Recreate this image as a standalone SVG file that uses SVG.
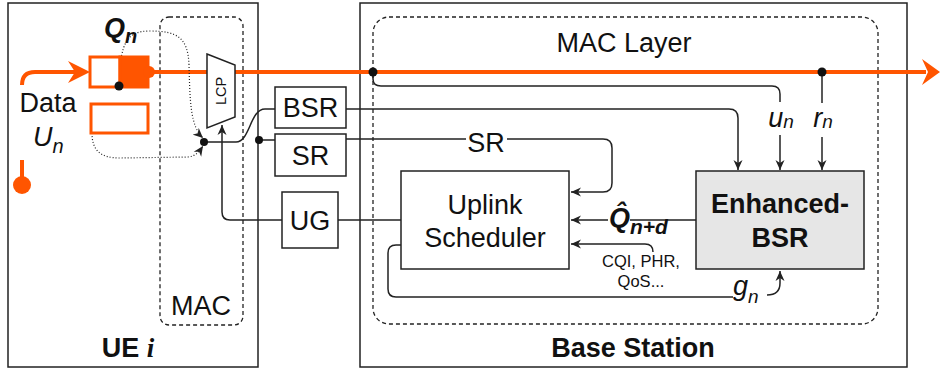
<svg xmlns="http://www.w3.org/2000/svg" width="940" height="369" viewBox="0 0 940 369">
<style>
.box{fill:#fff;stroke:#222;stroke-width:1.5}
.cont{fill:none;stroke:#222;stroke-width:1.5}
.dash{fill:none;stroke:#222;stroke-width:1.3;stroke-dasharray:4 3}
.ln{fill:none;stroke:#222;stroke-width:1.5}
.dot{fill:none;stroke:#222;stroke-width:1.2;stroke-dasharray:1 2}
.or{fill:none;stroke:#ff5500;stroke-width:4}
.t{font-family:"Liberation Sans",Arial,sans-serif;font-size:27px;fill:#111}
.s{font-family:"Liberation Sans",Arial,sans-serif;font-size:16.5px;fill:#111}
.lcp{font-family:"Liberation Sans",Arial,sans-serif;font-size:14.5px;fill:#111}
.tb{font-family:"Liberation Sans",Arial,sans-serif;font-size:27px;font-weight:bold;fill:#111}
.it{font-family:"Liberation Sans",Arial,sans-serif;font-style:italic;fill:#111}
.bi{font-family:"Liberation Sans",Arial,sans-serif;font-style:italic;font-weight:bold;fill:#111}
</style>
<defs>
<marker id="a" markerUnits="userSpaceOnUse" markerWidth="11" markerHeight="10" refX="10" refY="5" orient="auto">
<path d="M0,0.5 L10,5 L0,9.5 L3,5 z" fill="#222"/>
</marker>
</defs>

<!-- containers -->
<g id="ue">
<rect x="8" y="3" width="250" height="364" class="cont"/>
<text x="128" y="357" class="tb" text-anchor="middle">UE <tspan font-family="'Liberation Serif',serif" font-style="italic">i</tspan></text>
</g>
<g id="ue-mac">
<rect x="160" y="17" width="83" height="308" rx="9" class="dash"/>
<text x="201" y="315" class="t" text-anchor="middle">MAC</text>
</g>
<g id="bs">
<rect x="360" y="3" width="547" height="364" class="cont"/>
<text x="633" y="357" class="tb" text-anchor="middle">Base Station</text>
</g>
<g id="mac-layer">
<rect x="373" y="17" width="505" height="307" rx="16" class="dash"/>
<text x="624" y="52" class="t" text-anchor="middle">MAC Layer</text>
</g>

<!-- connectors -->
<g id="connectors">
<!-- orange data path -->
<path d="M22,85 Q22,72 35,72 H76" class="or"/>
<polygon points="90,72 68,61 75,72 68,83" fill="#ff5500"/>
<path d="M153,72 H926" class="or"/>
<polygon points="940,72 922,59 928,72 922,85" fill="#ff5500"/>
<path d="M22,160 V185" class="or"/>
<circle cx="22" cy="185" r="9" fill="#ff5500"/>

<!-- dotted queue feedback -->
<path d="M119,86 C120,40 128,31 150,31 C178,31 188,38 189,65 C190,100 190,126 203,138" class="dot" marker-end="url(#a)"/>
<path d="M92,133 C92,150 100,158 120,158 L188,157 C196,156 199,152 203,146" class="dot" marker-end="url(#a)"/>

<!-- junction to BSR and SR -->
<path d="M205,142 H236 C250,142 250,109 265,109 H275" class="ln"/>
<path d="M259,140 H275" class="ln"/>
<circle cx="259" cy="140" r="4" fill="#111"/>

<!-- UG to LCP -->
<path d="M282,220 H230 Q222,220 222,212 V125" class="ln" marker-end="url(#a)"/>
<!-- UG to scheduler -->
<path d="M338,220 H401" class="ln"/>

<!-- BSR to Enhanced-BSR -->
<path d="M346,109 H729 Q738,109 738,118 V170" class="ln" marker-end="url(#a)"/>
<!-- SR to scheduler -->
<path d="M346,139 H466 M507,139 H603 Q612,139 612,148 V183 Q612,192 603,192 H571" class="ln" marker-end="url(#a)"/>
<text x="486" y="152" class="t" text-anchor="middle">SR</text>

<!-- u_n -->
<path d="M373,72 V79 Q373,86 381,86 H772 Q780,86 780,94 V102" class="ln"/>
<path d="M780,135 V170" class="ln" marker-end="url(#a)"/>
<circle cx="373" cy="72" r="4.5" fill="#111"/>
<text x="781" y="127" class="it" font-size="27" text-anchor="middle">u<tspan font-size="19" dy="1">n</tspan></text>

<!-- r_n -->
<path d="M822,72 V103" class="ln"/>
<path d="M822,137 V170" class="ln" marker-end="url(#a)"/>
<circle cx="822" cy="72" r="4.5" fill="#111"/>
<text x="823" y="127" class="it" font-size="27" text-anchor="middle">r<tspan font-size="19" dy="1">n</tspan></text>

<!-- Q hat -->
<path d="M696,220 H630 M608,220 H571" class="ln" marker-end="url(#a)"/>
<text x="609" y="227" class="bi" font-size="27">Q&#x302;<tspan font-size="21" dy="7">n+d</tspan></text>

<!-- CQI -->
<path d="M653,252 Q653,244 645,244 H571" class="ln" marker-end="url(#a)"/>
<text x="641" y="267" class="s" text-anchor="middle">CQI, PHR,</text>
<text x="641" y="287" class="s" text-anchor="middle">QoS...</text>

<!-- g_n -->
<path d="M401,245 H396 Q388,245 388,253 V289 Q388,297 396,297 H733" class="ln"/>
<path d="M767,295 Q780,295 780,283 V271" class="ln" marker-end="url(#a)"/>
<text x="733" y="295" class="it" font-size="27">g<tspan font-size="19" dy="8">n</tspan></text>
</g>

<!-- UE nodes -->
<g id="queue1">
<rect x="90" y="57" width="30" height="30" fill="#fff" stroke="#ff5500" stroke-width="3"/>
<rect x="120" y="57" width="28" height="30" fill="#ff5500" stroke="#ff5500" stroke-width="3"/>
<circle cx="149" cy="72" r="6" fill="#ff5500"/>
<circle cx="119" cy="86" r="4.5" fill="#111"/>
<text x="104" y="37" class="bi" font-size="27">Q<tspan font-size="20" dy="6">n</tspan></text>
</g>
<g id="queue2">
<rect x="91" y="104" width="57" height="29" fill="#fff" stroke="#ff5500" stroke-width="3"/>
</g>
<g id="data">
<text x="48" y="112" class="t" text-anchor="middle">Data</text>
<text x="33" y="146" class="it" font-size="27">U<tspan font-size="20" dy="7">n</tspan></text>
</g>
<g id="junction">
<circle cx="204" cy="142" r="4" fill="#111"/>
</g>
<g id="lcp">
<polygon points="207,54 235,65 235,117 207,128" class="box"/>
<text transform="translate(226,91) rotate(-90)" class="lcp" text-anchor="middle">LCP</text>
</g>

<!-- BS nodes -->
<g id="bsr">
<rect x="275" y="87" width="71" height="41" class="box"/>
<text x="310.5" y="117" class="t" text-anchor="middle">BSR</text>
</g>
<g id="sr">
<rect x="275" y="134" width="71" height="42" class="box"/>
<text x="310.5" y="165" class="t" text-anchor="middle">SR</text>
</g>
<g id="ug">
<rect x="282" y="192" width="56" height="56" class="box"/>
<text x="310" y="230" class="t" text-anchor="middle">UG</text>
</g>
<g id="scheduler">
<rect x="401" y="171" width="168" height="98" class="box"/>
<text x="485" y="214" class="t" text-anchor="middle">Uplink</text>
<text x="485" y="247" class="t" text-anchor="middle">Scheduler</text>
</g>
<g id="enhanced-bsr">
<rect x="696" y="171" width="168" height="98" fill="#e6e6e6" stroke="#222" stroke-width="1.5"/>
<text x="780" y="213" class="tb" text-anchor="middle">Enhanced-</text>
<text x="780" y="247" class="tb" text-anchor="middle">BSR</text>
</g>
</svg>
